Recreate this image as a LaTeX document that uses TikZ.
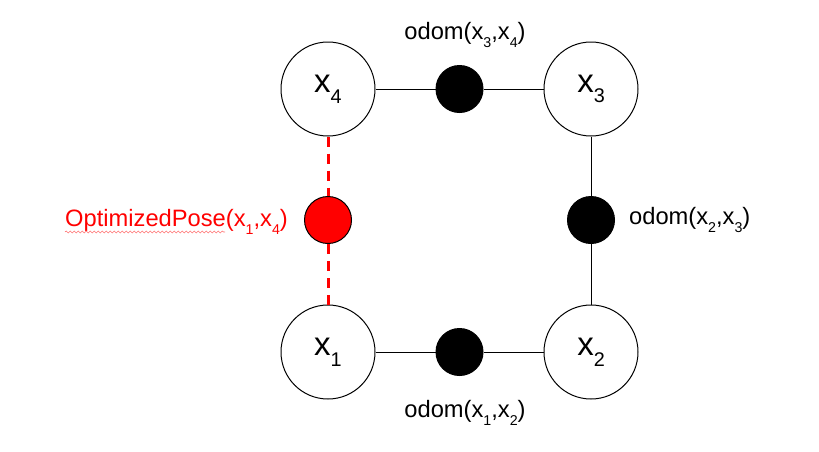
\documentclass[tikz,border=0pt]{standalone}
\usepackage{fontspec}
\setmainfont{Liberation Sans}
\usetikzlibrary{decorations.pathmorphing}
\newcommand{\lowsub}[1]{\raisebox{-0.32em}{\scalebox{0.6}{#1}}}

\begin{document}
\begin{tikzpicture}[x=1pt, y=-1pt,
		pose/.style={circle, draw, line width=1pt, minimum size=94pt, inner sep=0pt,
		  font=\fontsize{33}{37}\selectfont},
		factor/.style={circle, draw, fill=black, line width=1pt, minimum size=47pt, inner sep=0pt},
		optfactor/.style={factor, fill=red},
		lbl/.style={inner sep=0pt, font=\fontsize{23.7}{28}\selectfont}]
		\useasboundingbox (0,0) rectangle (819,451);
		% \draw[help lines] (0,0) grid (819,451);
		\node[pose] (x4) at (328,89)  {x\lowsub{4}};
		\node[pose] (x3) at (591,89)  {x\lowsub{3}};
		\node[pose] (x1) at (328,352) {x\lowsub{1}};
		\node[pose] (x2) at (591,352) {x\lowsub{2}};
		\node[factor]    (f34) at (459.5,89)  {};
		\node[factor]    (f23) at (591,220)   {};
		\node[factor]    (f12) at (459.5,352) {};
		\node[optfactor] (f14) at (328,220)   {};
		\node[lbl] (l34) at (465,35) {odom(x\lowsub{3},x\lowsub{4})};
		\node[lbl, anchor=west] (l23) at (629,220) {odom(x\lowsub{2},x\lowsub{3})};
		\node[lbl] (l12) at (465,413) {odom(x\lowsub{1},x\lowsub{2})};
		\node[lbl, anchor=east, text=red] (l14) at (288,222) {OptimizedPose(x\lowsub{1},x\lowsub{4})};
		\coordinate (squigA) at (65,232);
		\coordinate (squigB) at (225,232);
		\draw[line width=0.9pt]  (x4) -- (f34) -- (x3);
		\draw[line width=0.9pt]  (x3) -- (f23) -- (x2);
		\draw[line width=0.9pt]  (x1) -- (f12) -- (x2);
		\draw[red, line width=3pt, dash pattern=on 10pt off 7pt]  (x4) -- (f14) -- (x1);
		\draw[red!55, line width=0.6pt, decorate,
		  decoration={snake, amplitude=1pt, segment length=4pt}]  (squigA) -- (squigB);
\end{tikzpicture}
\end{document}
